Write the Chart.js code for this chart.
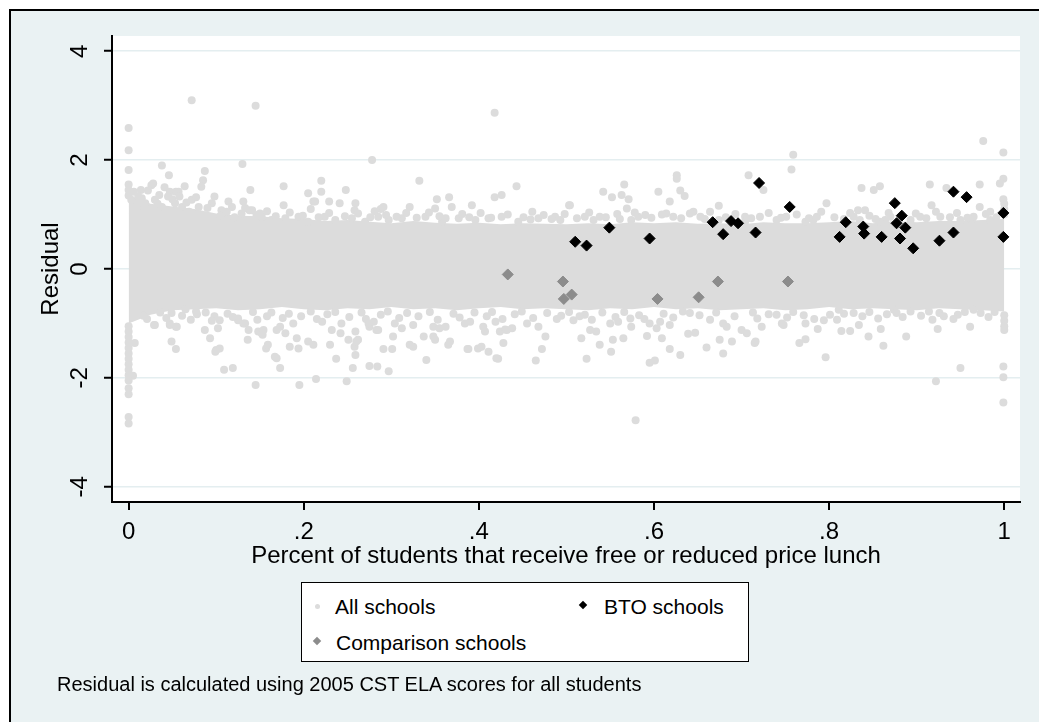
<!DOCTYPE html>
<html>
<head>
<meta charset="utf-8">
<script src="https://cdn.jsdelivr.net/npm/chart.js@4.4.0/dist/chart.umd.min.js"></script>
<style>
html,body{margin:0;overflow:hidden;}
body{background:#fff;width:1039px;height:722px;position:relative;font-family:"Liberation Sans",Arial,sans-serif;color:#000;}
#frame{position:absolute;left:9px;top:9px;right:-30px;bottom:-30px;background:#eaf2f3;border-left:2px solid #000;border-top:2px solid #000;}
#chart{position:absolute;left:0;top:0;}
#legend{position:absolute;left:301px;top:582px;width:446px;height:78px;background:#fff;border:1.5px solid #000;}
.txt{position:absolute;font-size:21px;line-height:21px;white-space:nowrap;}
.mk{position:absolute;}
#note{position:absolute;left:57px;top:674px;font-size:20px;line-height:20px;white-space:nowrap;}
</style>
</head>
<body>
<div id="frame"></div>
<canvas id="chart" width="1039" height="722"></canvas>
<div id="legend">
  <div class="mk" style="left:13px;top:21px;width:5px;height:5px;border-radius:50%;background:#dcdcdc;"></div>
  <div class="txt" style="left:33px;top:13px;">All schools</div>
  <div class="mk" style="left:278px;top:19px;width:6px;height:6px;background:#000;transform:rotate(45deg);"></div>
  <div class="txt" style="left:302px;top:13px;">BTO schools</div>
  <div class="mk" style="left:12px;top:55px;width:6px;height:6px;background:#8c8c8c;transform:rotate(45deg);"></div>
  <div class="txt" style="left:34px;top:49px;">Comparison schools</div>
</div>
<div id="note">Residual is calculated using 2005 CST ELA scores for all students</div>
<script>
// tick positions and labels
var xTicks = [0, 0.2, 0.4, 0.6, 0.8, 1];
var xTickLabels = ['0', '.2', '.4', '.6', '.8', '1'];
var yTicks = [-4, -2, 0, 2, 4];

// BTO schools
var btoX = [0.510,0.523,0.549,0.595,0.720,0.667,0.679,0.688,0.696,0.716,0.755,0.812,0.819,0.839,0.840,0.860,0.875,0.883,0.877,0.887,0.881,0.896,0.926,0.942,0.942,0.957,0.999,0.999];
var btoY = [0.50,0.43,0.76,0.56,1.58,0.86,0.64,0.88,0.84,0.67,1.14,0.59,0.86,0.78,0.65,0.59,1.21,0.98,0.84,0.76,0.56,0.38,0.52,0.67,1.42,1.32,1.03,0.59];

// Comparison schools
var compX = [0.433,0.496,0.497,0.506,0.604,0.651,0.673,0.753];
var compY = [-0.10,-0.23,-0.55,-0.47,-0.55,-0.52,-0.23,-0.23];

// All schools: the solid core of the cloud (edges)
var bandX = [0,0.025,0.05,0.075,0.1,0.125,0.15,0.175,0.2,0.225,0.25,0.275,0.3,0.325,0.35,0.375,0.4,0.425,0.45,0.475,0.5,0.525,0.55,0.575,0.6,0.625,0.65,0.675,0.7,0.725,0.75,0.775,0.8,0.825,0.85,0.875,0.9,0.925,0.95,0.975,1];
var bandUpper = [1.35,1.2,1.15,1.1,1.02,0.98,0.97,0.93,0.92,0.88,0.9,0.87,0.84,0.88,0.85,0.83,0.85,0.82,0.84,0.83,0.82,0.84,0.82,0.86,0.84,0.86,0.83,0.84,0.82,0.86,0.84,0.84,0.86,0.88,0.84,0.88,0.86,0.88,0.88,0.9,0.92];
var bandLower = [-1.0,-0.84,-0.76,-0.74,-0.72,-0.76,-0.74,-0.7,-0.74,-0.76,-0.72,-0.74,-0.7,-0.74,-0.72,-0.76,-0.72,-0.7,-0.74,-0.72,-0.74,-0.76,-0.72,-0.74,-0.7,-0.74,-0.72,-0.76,-0.74,-0.72,-0.76,-0.74,-0.7,-0.74,-0.72,-0.74,-0.76,-0.72,-0.74,-0.76,-0.78];

// All schools: points outside the solid core
var allSchools = [
[0,2.59],[0,2.18],[0.072,3.10],[0.145,3.00],[0.418,2.87],[0.278,2.00],[0,1.82],[0.130,1.93],[0.038,1.90],[0.087,1.80],[0.046,1.72],[0.332,1.62],[0.220,1.62],[0.085,1.63],[0.083,1.51],[0.443,1.52],[0.177,1.52],[0.028,1.57],[0.139,1.45],[0.248,1.45],[0.014,1.45],[0.220,1.42],[0.205,1.39],[0.418,1.32],[0.426,1.36],[0.503,1.17],[0.392,1.17],[0.352,1.28],[0.366,1.32],[0.321,1.14],[0.288,1.10],[0.229,1.24],[0.211,1.24],[0.177,1.17],[0.241,1.21],[0.259,1.21],[0.131,1.24],[0.369,1.14],[0.411,0.93],[0.461,1.05],[0.493,0.90],[0.350,1.11],[0.114,1.24],[0.095,1.21],[0.057,1.42],
[0.026,1.54],[0.035,1.36],[0.047,1.42],[0.054,1.42],[0.213,1.24],[0.291,1.14],[0.258,1.08],[0.138,1.08],[0.150,1.02],
[0.976,2.35],[0.999,2.14],[0.759,2.10],[0.757,1.83],[0.626,1.72],[0.626,1.66],[0.708,1.72],[0.725,1.45],[0.566,1.55],[0.542,1.42],[0.552,1.32],[0.563,1.36],[0.571,1.28],[0.605,1.42],[0.618,1.24],[0.630,1.44],[0.635,1.34],[0.504,1.17],[0.569,1.11],[0.674,1.16],[0.645,1.05],[0.797,1.21],[0.837,1.49],[0.851,1.45],[0.858,1.52],[0.915,1.55],[0.934,1.49],[0.972,1.55],[0.999,1.66],[0.995,1.57],[0.999,1.28],[0.972,1.14],[0.984,1.05],[0.917,1.17],[0.927,0.96],[0.841,1.08],[0.833,1.08],[0.824,1.03],[0.773,0.87],[0.786,0.96],[0.721,0.96],[0.590,0.99],[0.521,0.96],[0.963,0.90],[0.893,0.81],[0.864,0.90],[0.704,0.96],
[0.531,0.90],[0.538,0.96],[0.574,0.90],[0.582,0.96],[0.614,1.02],[0.622,0.96],[0.653,0.96],[0.674,0.90],[0.704,0.87],[0.740,0.90],[0.751,0.96],[0.782,0.90],[0.828,0.96],[0.835,0.90],[0.858,0.87],[0.870,0.96],[0.893,0.90],[0.904,0.96],[0.950,0.90],[0.965,0.96],[0.984,0.90],
[0.003,1.27],[0.011,1.33],[0.019,1.21],[0.030,1.27],[0.038,1.14],[0.045,1.33],[0.053,1.21],[0.061,1.14],[0.072,1.27],[0.080,1.14],[0.106,1.08],[0.118,1.14],[0.129,1.02],[0.141,1.08],
[0.006,1.42],[0.009,1.12],[0.015,1.30],[0.022,1.44],[0.024,1.10],[0.033,1.20],[0.041,1.50],[0.050,1.28],[0.058,1.33],[0.066,1.22],[0.069,1.05],[0.077,1.32],[0.090,1.12],[0.098,1.33],[0.064,1.52],
[0.152,0.96],[0.163,0.90],[0.179,0.93],[0.194,0.96],[0.205,0.87],[0.224,0.96],[0.236,0.90],[0.255,0.93],[0.270,0.87],[0.285,0.96],[0.297,0.90],[0.312,0.93],[0.339,0.96],[0.358,0.87],[0.377,0.93],[0.396,0.90],[0.426,0.96],[0.445,0.87],[0.468,0.93],[0.487,0.96],
[0.105,0.98],[0.112,1.05],[0.121,0.95],[0.133,1.12],[0.146,0.99],[0.158,1.06],[0.168,0.97],[0.184,1.04],[0.199,0.98],[0.208,1.10],[0.217,0.95],[0.229,1.03],[0.247,0.97],[0.262,1.02],[0.276,0.95],[0.281,1.06],[0.294,0.99],[0.306,0.96],[0.317,1.03],[0.329,0.94],[0.343,1.04],[0.355,0.97],[0.362,0.93],[0.381,1.01],[0.389,0.95],[0.402,1.03],[0.414,0.94],[0.433,1.00],[0.451,0.95],[0.459,0.91],[0.474,0.99],[0.483,0.92],[0.498,1.01],[0.512,0.93],[0.526,1.04],[0.545,0.95],[0.558,1.01],[0.561,0.92],[0.578,1.04],[0.597,0.94],[0.609,1.00],[0.631,0.93],[0.641,1.02],[0.658,0.92],[0.664,1.05],[0.682,0.95],[0.693,1.01],[0.711,0.93],[0.731,1.03],[0.745,0.94],[0.763,1.00],[0.777,0.93],[0.791,1.05],[0.806,0.95],[0.817,0.92],[0.846,0.98],[0.853,0.92],[0.868,1.03],[0.881,0.95],[0.899,1.02],[0.911,0.93],[0.922,1.05],[0.938,0.95],[0.946,1.03],[0.958,0.94],[0.979,1.01],[0.991,0.95],
[0.016,-0.84],[0.030,-1.03],[0.049,-1.33],[0.054,-1.47],[0.007,-1.36],[0.100,-1.49],[0.104,-1.46],[0.109,-1.85],[0.119,-1.82],[0.145,-2.13],[0.173,-1.82],[0.195,-2.13],[0.214,-2.02],[0.249,-2.06],[0.275,-1.78],[0.284,-1.79],[0.297,-1.88],[0.256,-1.82],[0.237,-1.65],[0.157,-1.46],[0.159,-1.39],[0.167,-1.61],[0.169,-1.64],[0.136,-1.30],[0.093,-1.27],[0.087,-1.12],[0.047,-1.03],[0.054,-1.06],[0.194,-1.46],[0.184,-1.43],[0.205,-1.33],[0.211,-1.39],[0.230,-1.39],[0.258,-1.43],[0.260,-1.33],[0.291,-1.47],[0.301,-1.47],[0.340,-1.67],[0.325,-1.43],[0.321,-1.39],[0.365,-1.39],[0.367,-1.33],[0.388,-1.47],[0.399,-1.46],[0.411,-1.52],[0.420,-1.64],[0.302,-1.24],[0.312,-1.09],[0.348,-1.06],[0.355,-1.09],[0.405,-1.06],[0.275,-1.06],[0.283,-1.12],[0.251,-1.30],[0.173,-1.06],[0.148,-1.15],[0.153,-1.21],[0.125,-0.94],[0.131,-1.00],[0.077,-0.78],[0.098,-0.87],[0.104,-0.94],
[0.005,-1.96],[0.465,-1.68],[0.472,-1.47],[0.476,-1.24],[0.428,-1.36],[0.403,-1.43],[0.387,-1.47],[0.259,-1.58],[0.099,-1.52],[0.029,-1.03],[0.017,-0.86],[0.489,-0.92],[0.350,-1.30],[0.407,-1.15],[0.424,-1.15],[0.430,-1.11],[0.422,-1.65],
[0.049,-0.81],[0.047,-1.00],[0.055,-1.06],[0.065,-0.74],[0.078,-0.83],[0.102,-1.09],[0.125,-0.91],[0.133,-1.00],[0.137,-1.12],[0.152,-1.18],[0.154,-1.12],[0.158,-0.87],[0.169,-1.12],[0.179,-1.18],[0.188,-1.00],[0.192,-1.27],[0.221,-0.97],[0.232,-1.12],[0.243,-1.00],[0.242,-1.18],[0.262,-1.30],[0.259,-1.15],[0.274,-1.00],[0.285,-1.12],[0.280,-0.97],[0.304,-1.00],[0.325,-1.03],[0.337,-1.24],[0.348,-1.24],[0.362,-1.06],[0.384,-1.00],[0.390,-0.97],[0.419,-0.97],[0.432,-1.12],[0.438,-1.09],[0.455,-1.00],[0.468,-1.06],
[0.021,-0.92],[0.036,-0.80],[0.043,-0.90],[0.061,-0.86],[0.071,-0.93],[0.088,-0.80],[0.095,-0.95],[0.113,-0.82],[0.119,-0.88],[0.142,-0.79],[0.147,-0.93],[0.163,-0.80],[0.176,-0.90],[0.183,-0.82],[0.197,-0.87],[0.208,-0.78],[0.215,-0.92],[0.227,-0.83],[0.236,-0.79],[0.252,-0.88],[0.266,-0.80],[0.271,-0.92],[0.288,-0.84],[0.296,-0.78],[0.309,-0.90],[0.318,-0.81],[0.331,-0.87],[0.344,-0.79],[0.353,-0.93],[0.371,-0.82],[0.378,-0.89],[0.395,-0.80],[0.409,-0.87],[0.415,-0.79],[0.427,-0.92],[0.441,-0.83],[0.449,-0.78],[0.462,-0.90],[0.478,-0.81],[0.494,-0.86],
[0.503,-0.79],[0.521,-0.84],[0.529,-0.93],[0.541,-0.80],[0.556,-0.88],[0.566,-0.79],[0.583,-0.85],[0.589,-0.92],[0.611,-0.82],[0.622,-0.89],[0.633,-0.78],[0.652,-0.85],[0.664,-0.93],[0.671,-0.80],[0.692,-0.87],[0.713,-0.80],[0.718,-0.91],[0.731,-0.83],[0.752,-0.89],[0.759,-0.79],[0.771,-0.85],[0.783,-0.92],[0.809,-0.93],[0.817,-0.82],[0.838,-0.87],[0.846,-0.79],[0.856,-0.91],[0.866,-0.83],[0.884,-0.88],[0.893,-0.78],[0.905,-0.86],[0.918,-0.93],[0.926,-0.81],[0.947,-0.84],[0.955,-0.79],[0.982,-0.88],[0.989,-0.79],
[0.579,-2.78],[0.922,-2.06],[0.950,-1.82],[0.999,-1.79],[0.999,-1.99],[0.999,-2.45],[0.796,-1.62],[0.862,-1.41],[0.888,-1.24],[0.845,-1.24],[0.859,-1.10],[0.924,-1.10],[0.961,-1.06],[0.834,-1.03],[0.814,-1.14],[0.824,-1.14],[0.787,-1.10],[0.773,-1.00],[0.766,-1.36],[0.773,-1.29],[0.715,-1.36],[0.716,-1.33],[0.679,-1.55],[0.660,-1.44],[0.630,-1.58],[0.618,-1.47],[0.595,-1.72],[0.601,-1.68],[0.551,-1.52],[0.538,-1.39],[0.523,-1.65],[0.517,-1.27],[0.553,-1.30],[0.565,-1.27],[0.592,-1.23],[0.609,-1.27],[0.639,-1.19],[0.647,-1.17],[0.675,-1.30],[0.689,-1.33],[0.618,-1.03],[0.603,-1.09],[0.748,-1.03],[0.914,-0.78],[0.942,-0.92],[0.527,-1.12],[0.534,-1.15],
[0.508,-0.94],[0.515,-0.87],[0.550,-1.00],[0.559,-0.97],[0.573,-0.91],[0.574,-1.06],[0.595,-1.00],[0.607,-0.97],[0.641,-0.81],[0.679,-1.00],[0.683,-1.06],[0.700,-1.12],[0.706,-1.18],[0.723,-1.06],[0.740,-0.84],[0.746,-1.00],[0.794,-0.94],[0.801,-0.84],[0.811,-0.75],[0.828,-0.81],[0.874,-0.75],[0.877,-0.81],[0.931,-0.87],[0.965,-0.75],[0.973,-0.81],
[0,1.55],[0,1.45],[0,1.35],[0,-1.05],[0,-1.15],[0,-1.25],[0,-1.35],[0,-1.45],[0,-1.55],[0,-1.65],[0,-1.75],[0,-1.85],[0,-1.95],[0,-2.05],[0,-2.19],[0,-2.30],[0,-2.72],[0,-2.84],
[1,1.00],[1,1.10],[1,1.20],[1,-0.85],[1,-0.95],[1,-1.05],[1,-1.12]
];

var fontFam = '"Liberation Sans", Arial, sans-serif';
Chart.defaults.font.family = fontFam;
Chart.defaults.color = '#000';

// white plot region and rotated y tick labels, as Stata draws them
var stataLook = {
  id: 'stataLook',
  beforeDraw: function(chart) {
    var a = chart.chartArea, c = chart.ctx;
    c.save();
    c.fillStyle = '#fff';
    c.fillRect(a.left, a.top, a.right - a.left, a.bottom - a.top);
    c.restore();
  },
  afterDraw: function(chart) {
    var s = chart.scales.y, c = chart.ctx;
    c.save();
    c.fillStyle = '#000';
    c.font = '24px ' + fontFam;
    c.textAlign = 'center';
    c.textBaseline = 'middle';
    yTicks.forEach(function(v) {
      c.save();
      c.translate(80, s.getPixelForValue(v));
      c.rotate(-Math.PI / 2);
      c.fillText(String(v), 0, 0);
      c.restore();
    });
    c.restore();
  }
};

function pairs(xs, ys) {
  return xs.map(function(x, i) { return {x: x, y: ys[i]}; });
}

new Chart(document.getElementById('chart'), {
  type: 'scatter',
  data: {
    datasets: [
      {label: 'BTO schools', data: pairs(btoX, btoY), pointStyle: 'rectRot', pointRadius: 5.5,
       backgroundColor: '#000', borderColor: '#000', borderWidth: 1, order: 1},
      {label: 'Comparison schools', data: pairs(compX, compY), pointStyle: 'rectRot', pointRadius: 5.5,
       backgroundColor: '#8c8c8c', borderColor: '#8c8c8c', borderWidth: 1, order: 2},
      {label: 'All schools', data: allSchools.map(function(p) { return {x: p[0], y: p[1]}; }),
       pointStyle: 'circle', pointRadius: 4, backgroundColor: '#dcdcdc', borderWidth: 0, order: 3},
      {type: 'line', label: 'core top', data: pairs(bandX, bandUpper), fill: '+1',
       backgroundColor: '#dcdcdc', borderColor: '#dcdcdc', borderWidth: 0, pointRadius: 0, tension: 0, order: 4},
      {type: 'line', label: 'core bottom', data: pairs(bandX, bandLower), fill: false,
       borderColor: '#dcdcdc', borderWidth: 0, pointRadius: 0, tension: 0, order: 5}
    ]
  },
  options: {
    responsive: false,
    animation: false,
    devicePixelRatio: 1,
    events: [],
    layout: {padding: {left: 10, top: 36, right: 19, bottom: 0}, autoPadding: false},
    plugins: {legend: {display: false}, tooltip: {enabled: false}},
    scales: {
      x: {
        type: 'linear', min: -0.019, max: 1.018,
        afterBuildTicks: function(s) { s.ticks = xTicks.map(function(v) { return {value: v}; }); },
        afterFit: function(s) { s.height = 220; },
        grid: {drawOnChartArea: false, color: '#000', tickLength: 8, lineWidth: 2},
        border: {color: '#000', width: 2},
        ticks: {
          autoSkip: false, padding: 8, font: {size: 24},
          callback: function(v) { return xTickLabels[xTicks.indexOf(v)]; }
        },
        title: {display: true, text: 'Percent of students that receive free or reduced price lunch',
                font: {size: 24}, padding: {top: 0, bottom: 151}}
      },
      y: {
        min: -4.28, max: 4.28,
        afterBuildTicks: function(s) { s.ticks = yTicks.map(function(v) { return {value: v}; }); },
        afterFit: function(s) { s.width = 102; },
        grid: {color: '#e4eef0', lineWidth: 1.5, tickColor: '#000', tickWidth: 2, tickLength: 8},
        border: {color: '#000', width: 2},
        ticks: {display: false},
        title: {display: true, text: 'Residual', font: {size: 24}, padding: {top: 27, bottom: 0}}
      }
    }
  },
  plugins: [stataLook]
});
</script>
</body>
</html>
